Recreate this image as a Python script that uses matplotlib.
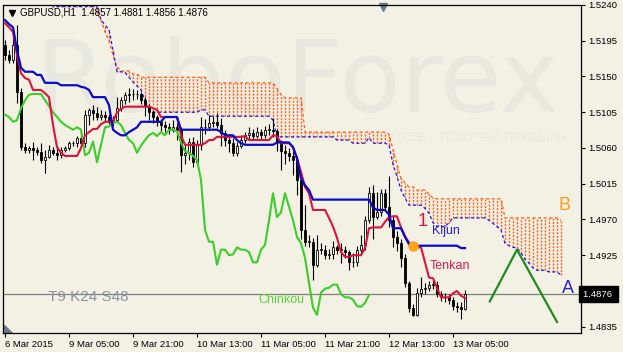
import matplotlib
matplotlib.use('Agg')
import matplotlib.pyplot as plt
import matplotlib.transforms as mtransforms
from matplotlib.patches import Polygon
import numpy as np

# ---------------- data (GBPUSD H1) ----------------
time_ticks = [0, 16, 32, 48, 64, 80, 96, 112]
time_labels = ['6 Mar 2015', '9 Mar 05:00', '9 Mar 21:00', '10 Mar 13:00',
               '11 Mar 05:00', '11 Mar 21:00', '12 Mar 13:00', '13 Mar 05:00']
price_ticks = [1.5240, 1.5195, 1.5150, 1.5105, 1.5060, 1.5015, 1.4970, 1.4925, 1.4835]
last_price = 1.4876

opens = [1.5190, 1.5177, 1.5171, 1.5190, 1.5131, 1.5061, 1.5058, 1.5060, 1.5058, 1.5055,
         1.5045, 1.5049, 1.5058, 1.5054, 1.5051, 1.5058, 1.5060, 1.5066, 1.5066, 1.5073,
         1.5066, 1.5102, 1.5108, 1.5104, 1.5099, 1.5102, 1.5099, 1.5093, 1.5095, 1.5110,
         1.5120, 1.5127, 1.5128, 1.5128, 1.5128, 1.5120, 1.5113, 1.5105, 1.5099, 1.5093,
         1.5089, 1.5086, 1.5083, 1.5086, 1.5083, 1.5051, 1.5054, 1.5068, 1.5042, 1.5064,
         1.5086, 1.5087, 1.5092, 1.5093, 1.5089, 1.5079, 1.5070, 1.5066, 1.5054, 1.5063,
         1.5070, 1.5076, 1.5079, 1.5075, 1.5080, 1.5076, 1.5083, 1.5083, 1.5081, 1.5067,
         1.5056, 1.5054, 1.5050, 1.5045, 1.5020, 1.4957, 1.4942, 1.4942, 1.4913, 1.4932,
         1.4932, 1.4925, 1.4926, 1.4935, 1.4932, 1.4932, 1.4929, 1.4916, 1.4916, 1.4932,
         1.4938, 1.4969, 1.5003, 1.4973, 1.4979, 1.5003, 1.4986, 1.4969, 1.4948, 1.4940,
         1.4922, 1.4890, 1.4859, 1.4850, 1.4878, 1.4883, 1.4884, 1.4888, 1.4888, 1.4876,
         1.4872, 1.4872, 1.4869, 1.4861, 1.4860, 1.4857]
highs = [1.5196, 1.5183, 1.5200, 1.5215, 1.5136, 1.5066, 1.5063, 1.5068, 1.5061, 1.5066,
         1.5058, 1.5064, 1.5061, 1.5060, 1.5061, 1.5063, 1.5069, 1.5069, 1.5075, 1.5078,
         1.5108, 1.5110, 1.5114, 1.5112, 1.5108, 1.5106, 1.5103, 1.5100, 1.5124, 1.5124,
         1.5131, 1.5135, 1.5134, 1.5133, 1.5131, 1.5124, 1.5116, 1.5108, 1.5102, 1.5097,
         1.5094, 1.5092, 1.5095, 1.5092, 1.5086, 1.5064, 1.5072, 1.5074, 1.5070, 1.5099,
         1.5096, 1.5102, 1.5100, 1.5104, 1.5098, 1.5083, 1.5076, 1.5072, 1.5068, 1.5076,
         1.5080, 1.5086, 1.5084, 1.5086, 1.5084, 1.5088, 1.5090, 1.5098, 1.5084, 1.5070,
         1.5064, 1.5060, 1.5056, 1.5050, 1.5024, 1.4988, 1.4950, 1.4947, 1.4950, 1.4940,
         1.4938, 1.4933, 1.4943, 1.4938, 1.4940, 1.4936, 1.4932, 1.4928, 1.4936, 1.4950,
         1.4975, 1.5011, 1.5013, 1.5005, 1.5008, 1.5008, 1.5025, 1.4975, 1.4955, 1.4945,
         1.4926, 1.4893, 1.4864, 1.4884, 1.4897, 1.4890, 1.4893, 1.4895, 1.4892, 1.4880,
         1.4878, 1.4876, 1.4873, 1.4866, 1.4866, 1.4881]
lows = [1.5171, 1.5167, 1.5167, 1.5117, 1.5058, 1.5054, 1.5054, 1.5045, 1.5051, 1.5041,
        1.5029, 1.5047, 1.5051, 1.5045, 1.5047, 1.5055, 1.5058, 1.5063, 1.5061, 1.5064,
        1.5061, 1.5089, 1.5095, 1.5095, 1.5095, 1.5094, 1.5090, 1.5088, 1.5093, 1.5106,
        1.5115, 1.5118, 1.5120, 1.5122, 1.5115, 1.5100, 1.5095, 1.5092, 1.5088, 1.5082,
        1.5080, 1.5078, 1.5080, 1.5070, 1.5030, 1.5040, 1.5045, 1.5036, 1.5038, 1.5058,
        1.5078, 1.5083, 1.5087, 1.5085, 1.5062, 1.5062, 1.5055, 1.5050, 1.5050, 1.5060,
        1.5066, 1.5070, 1.5070, 1.5072, 1.5070, 1.5073, 1.5076, 1.5074, 1.5056, 1.5032,
        1.5040, 1.5043, 1.5026, 1.5001, 1.4946, 1.4936, 1.4935, 1.4894, 1.4910, 1.4927,
        1.4920, 1.4920, 1.4920, 1.4926, 1.4915, 1.4922, 1.4906, 1.4910, 1.4912, 1.4928,
        1.4932, 1.4965, 1.4946, 1.4970, 1.4975, 1.4983, 1.4960, 1.4935, 1.4930, 1.4910,
        1.4885, 1.4853, 1.4848, 1.4848, 1.4872, 1.4876, 1.4880, 1.4883, 1.4872, 1.4868,
        1.4866, 1.4863, 1.4856, 1.4853, 1.4845, 1.4856]
closes = [1.5177, 1.5171, 1.5190, 1.5131, 1.5061, 1.5058, 1.5060, 1.5058, 1.5055, 1.5045,
          1.5049, 1.5058, 1.5054, 1.5051, 1.5058, 1.5060, 1.5066, 1.5066, 1.5073, 1.5066,
          1.5102, 1.5108, 1.5104, 1.5099, 1.5102, 1.5099, 1.5093, 1.5095, 1.5110, 1.5120,
          1.5127, 1.5128, 1.5128, 1.5128, 1.5120, 1.5113, 1.5105, 1.5099, 1.5093, 1.5089,
          1.5086, 1.5083, 1.5086, 1.5083, 1.5051, 1.5054, 1.5068, 1.5042, 1.5064, 1.5086,
          1.5087, 1.5092, 1.5093, 1.5089, 1.5079, 1.5070, 1.5066, 1.5054, 1.5063, 1.5070,
          1.5076, 1.5079, 1.5075, 1.5080, 1.5076, 1.5083, 1.5083, 1.5081, 1.5067, 1.5056,
          1.5054, 1.5050, 1.5045, 1.5020, 1.4957, 1.4942, 1.4942, 1.4913, 1.4932, 1.4932,
          1.4925, 1.4926, 1.4935, 1.4932, 1.4932, 1.4929, 1.4916, 1.4916, 1.4932, 1.4938,
          1.4969, 1.5003, 1.4973, 1.4979, 1.5003, 1.4986, 1.4969, 1.4948, 1.4940, 1.4922,
          1.4890, 1.4859, 1.4850, 1.4878, 1.4883, 1.4884, 1.4888, 1.4888, 1.4876, 1.4872,
          1.4872, 1.4869, 1.4861, 1.4860, 1.4857, 1.4876]

tenkan = ([1.5217, 1.5212, 1.5206, 1.5177, 1.5154, 1.5148, 1.5146, 1.5133, 1.5133, 1.5133,
           1.5129, 1.5124, 1.5089, 1.5061, 1.5054] + [1.5050] * 4
          + [1.5060, 1.5076, 1.5080, 1.5084, 1.5084, 1.5090] + [1.5093] * 3
          + [1.5105, 1.5109] + [1.5112] * 7 + [1.5110, 1.5108] + [1.5099] * 5
          + [1.5076] + [1.5064] * 5 + [1.5066, 1.5070, 1.5070] + [1.5074] * 7
          + [1.5075] + [1.5070] * 6 + [1.5076, 1.5075] + [1.5066] * 3
          + [1.5061, 1.5047, 1.5030, 1.5011, 1.5003] + [1.4982] * 4
          + [1.4972, 1.4961, 1.4947, 1.4929, 1.4923, 1.4923] + [1.4925] * 3
          + [1.4934, 1.4959] + [1.4960] * 3
          + [1.4967, 1.4973, 1.4974, 1.4974, 1.4960, 1.4949, 1.4941] + [1.4935] * 3
          + [1.4916, 1.4897, 1.4896, 1.4884] + [1.4872] * 3
          + [1.4877, 1.4880, 1.4874, 1.4871])

kijun = ([1.5221, 1.5216, 1.5212, 1.5183, 1.5161] + [1.5156] * 3 + [1.5152] * 2
         + [1.5142] * 4 + [1.5139] * 5 + [1.5137, 1.5136, 1.5133] + [1.5124] * 4
         + [1.5114, 1.5083, 1.5079] + [1.5076] * 2 + [1.5080, 1.5083, 1.5086]
         + [1.5093] * 6 + [1.5099] * 4 + [1.5083] * 10 + [1.5080] + [1.5076] * 3
         + [1.5070, 1.5066] + [1.5064] * 8 + [1.5067] * 4
         + [1.5061, 1.5047, 1.5022, 1.5013, 1.5007, 1.4995] + [1.4995] * 14
         + [1.4985] + [1.4982] * 3 + [1.4976] + [1.4959] * 3 + [1.4948, 1.4939]
         + [1.4937] * 12 + [1.4934] * 2)

chinkou = [1.5102, 1.5099, 1.5093, 1.5095, 1.5110, 1.5120, 1.5127, 1.5128, 1.5128, 1.5128,
           1.5120, 1.5113, 1.5105, 1.5099, 1.5093, 1.5089, 1.5086, 1.5083, 1.5086, 1.5083,
           1.5051, 1.5054, 1.5068, 1.5042, 1.5064, 1.5086, 1.5087, 1.5092, 1.5093, 1.5089,
           1.5079, 1.5070, 1.5066, 1.5054, 1.5063, 1.5070, 1.5076, 1.5079, 1.5075, 1.5080,
           1.5076, 1.5083, 1.5083, 1.5081, 1.5067, 1.5056, 1.5054, 1.5050, 1.5045, 1.5020,
           1.4957, 1.4942, 1.4942, 1.4913, 1.4932, 1.4932, 1.4925, 1.4926, 1.4935, 1.4932,
           1.4932, 1.4929, 1.4916, 1.4916, 1.4932, 1.4938, 1.4969, 1.5003, 1.4973, 1.4979,
           1.5003, 1.4986, 1.4969, 1.4948, 1.4940, 1.4922, 1.4890, 1.4859, 1.4850, 1.4878,
           1.4883, 1.4884, 1.4888, 1.4888, 1.4876, 1.4872, 1.4872, 1.4869, 1.4861, 1.4860,
           1.4865, 1.4875]

# cloud is shifted 24 bars ahead, first value belongs to bar 11
cloud_start = 11
senkou_a = ([1.5260] + [1.5238] * 12
            + [1.5221, 1.5215, 1.5209, 1.5183, 1.5156, 1.5156, 1.5155, 1.5149, 1.5143,
               1.5138, 1.5133, 1.5120, 1.5105] + [1.5105] * 12 + [1.5108] * 2
            + [1.5100] * 16 + [1.5095] + [1.5074] * 15 + [1.5070] * 4 + [1.5066] * 4
            + [1.5073] + [1.5066] * 4 + [1.5064, 1.5039, 1.5024, 1.5007, 1.4997]
            + [1.4988] * 4 + [1.4984, 1.4978, 1.4966] + [1.4961] * 3 + [1.4966]
            + [1.4972] * 9
            + [1.4969, 1.4965, 1.4961, 1.4957, 1.4940, 1.4937, 1.4935, 1.4934, 1.4928,
               1.4920, 1.4915, 1.4909] + [1.4906] * 3 + [1.4904] * 3 + [1.4900])
senkou_b = ([1.5280] + [1.5260] * 10
            + [1.5240, 1.5230, 1.5221, 1.5206, 1.5195, 1.5177, 1.5162] + [1.5157] * 3
            + [1.5153] * 2 + [1.5149] * 17 + [1.5142] * 17 + [1.5135, 1.5127]
            + [1.5123] * 5 + [1.5080] * 21 + [1.5077, 1.5058, 1.5039, 1.5022, 1.5016]
            + [1.5011] * 2 + [1.5007] * 3 + [1.5002, 1.4997] + [1.4996] * 17
            + [1.4972] * 14 + [1.4969])

# hand drawn forecast and signal point
forecast_x = [121.2, 128, 138]
forecast_y = [1.4867, 1.4932, 1.4841]
signal_x, signal_y = 102, 1.4937


def draw_chart():
    BG = '#f3f1e4'
    plt.rcParams['font.family'] = ['Liberation Sans', 'DejaVu Sans']

    fig = plt.figure(figsize=(6.23, 3.52), dpi=100, facecolor=BG)
    ax = fig.add_axes([3 / 623, 19 / 352, 578 / 623, 328 / 352])
    ax.set_facecolor(BG)
    ax.set_xlim(-0.5, 144)
    ax.set_ylim(1.48271, 1.5240)

    # watermark
    ax.text(0.055, 0.675, 'RoboForex', transform=ax.transAxes, fontsize=72,
            family='DejaVu Sans', color='#e8e8de', ha='left', va='baseline', zorder=0)
    ax.text(0.974, 0.585, 'ИСПОЛЬЗУЙ РОБОТОВ – ПОЛУЧАЙ ПРИБЫЛЬ', transform=ax.transAxes,
            fontsize=9, color='#eae9df', ha='right', va='baseline', zorder=0)

    x = np.arange(len(closes))
    o = np.array(opens)
    c = np.array(closes)
    h = np.array(highs)
    l = np.array(lows)

    # cloud: dotted orange verticals between the two spans
    cx = np.arange(cloud_start, cloud_start + len(senkou_a))
    sa = np.array(senkou_a)
    sb = np.array(senkou_b)
    ax.vlines(cx, np.minimum(sa, sb), np.maximum(sa, sb), colors='#ff6020',
              linestyles=(0, (1.5, 1.0)), linewidth=1.0, zorder=1)
    ax.plot(cx, sb, color='#ff5a1a', lw=0.9, ls=(0, (2.5, 2)), zorder=2)
    ax.plot(cx, sa, color='#1c1cf0', lw=0.9, ls=(0, (2.5, 2)), zorder=2)

    # last price line
    ax.axhline(last_price, color='#808080', lw=0.9, zorder=2)

    # candles
    ax.vlines(x, l, h, color='black', lw=0.8, zorder=3)
    body = np.maximum(np.abs(c - o), 0.00003)
    fill = np.where(c >= o, 'white', 'black')
    ax.bar(x, body, bottom=np.minimum(o, c), width=0.55, color=fill,
           edgecolor='black', linewidth=0.6, zorder=3)

    # ichimoku lines
    ax.plot(np.arange(len(chinkou)), chinkou, color='#3ccc2c', lw=1.5, zorder=4)
    ax.plot(x, tenkan, color='#dc143c', lw=1.5, zorder=5)
    ax.plot(x, kijun, color='#0a0acd', lw=1.6, zorder=5)

    ax.plot(forecast_x, forecast_y, color='#1e8c1e', lw=1.6, zorder=5)
    ax.plot(signal_x, signal_y, 'o', ms=6.5, color='#ffa31a', zorder=6)

    # annotations
    ax.text(10.8, 1.4873, 'T9 K24 S48', fontsize=11, color='#8a94a0', va='center', zorder=6)
    ax.text(63.3, 1.4869, 'Chinkou', fontsize=9, color='#5ad43a', va='center', zorder=6)
    ax.text(106.8, 1.4956, 'Kijun', fontsize=9, color='#2222c8', va='center', zorder=6)
    ax.text(106.2, 1.4911, 'Tenkan', fontsize=9, color='#dc1e50', va='center', zorder=6)
    ax.text(103.2, 1.4967, '1', fontsize=13, color='#dc143c', va='center', zorder=6)
    ax.text(138.5, 1.4988, 'B', fontsize=13, color='#ff9a1a', va='center', zorder=6)
    ax.text(139.3, 1.4883, 'A', fontsize=13, color='#2424d0', va='center', zorder=6)

    # title
    ax.plot([0.0155], [0.977], marker='v', ms=4.5, color='black', transform=ax.transAxes,
            clip_on=False)
    ax.text(0.029, 0.977, 'GBPUSD,H1  1.4857 1.4881 1.4856 1.4876', transform=ax.transAxes,
            fontsize=7, color='black', va='center', ha='left')

    # small chart markers
    ax.plot([0.657], [0.994], marker='v', ms=5.5, color='#6c7b8b', transform=ax.transAxes,
            clip_on=False)
    ax.add_patch(Polygon([(0.002, 0.0), (0.002, 0.024), (0.016, 0.0)], closed=True,
                         transform=ax.transAxes, color='#6c7b8b'))

    # axes
    for s in ax.spines.values():
        s.set_color('black')
        s.set_linewidth(0.9)
    ax.yaxis.tick_right()
    ax.set_yticks(price_ticks)
    ax.set_yticklabels(['%.4f' % p for p in price_ticks])
    ax.set_xticks(time_ticks)
    ax.set_xticklabels(time_labels, ha='left')
    ax.tick_params(axis='both', direction='out', length=3, width=0.8,
                   labelsize=6.8, colors='black', pad=2)

    trans = mtransforms.blended_transform_factory(ax.transAxes, ax.transData)
    ax.text(1.003, last_price, '%.4f ' % last_price, transform=trans, fontsize=6.8,
            color='white', va='center', ha='left', zorder=10,
            bbox=dict(boxstyle='square,pad=0.35', fc='black', ec='black'))

    fig.savefig('out.png', dpi=100, facecolor=BG)


if __name__ == '__main__':
    draw_chart()
